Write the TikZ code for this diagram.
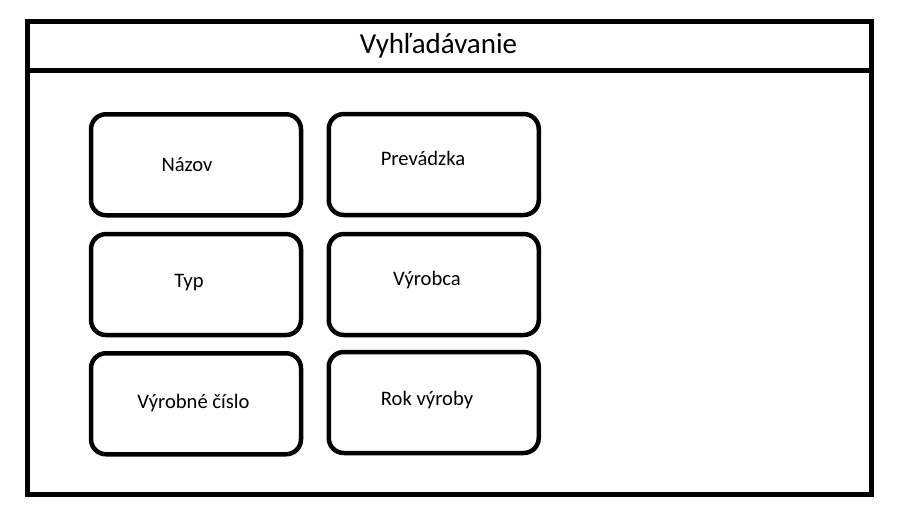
\documentclass[tikz,border=0pt]{standalone}
\usepackage{fontspec}
\setmainfont{Carlito}
\begin{document}
\begin{tikzpicture}[x=1pt,y=-1pt,
  frame/.style={draw=black,line width=5pt},
  field/.style={draw=black,line width=4.5pt,rounded corners=15pt,minimum width=210pt,minimum height=101pt,inner sep=0pt},
  lbl/.style={font=\fontsize{20.6}{24}\selectfont,inner sep=0pt,anchor=center},
  ttl/.style={font=\fontsize{29}{33}\selectfont,inner sep=0pt,anchor=center}]
\useasboundingbox (0,0) rectangle (900,520);
\fill[white] (0,0) rectangle (900,520);
\draw[frame] (27.5,21.5) rectangle (871.5,494) coordinate (br);
\coordinate (sl) at (27.5,70);
\coordinate (sr) at (871.5,70);
\draw[frame] (sl) -- (sr);
\node[ttl] (title) at (438.5,46) {Vyhľadávanie};
\node[field] (b1) at (196,164.75) {};
\node[field] (b2) at (433.75,164.5) {};
\node[field] (b3) at (196,284.5) {};
\node[field] (b4) at (433.75,284.5) {};
\node[field] (b5) at (196,403.75) {};
\node[field] (b6) at (433.75,402.5) {};
\node[lbl] (t1) at (187,165) {Názov};
\node[lbl] (t2) at (423,158) {Prevádzka};
\node[lbl] (t3) at (189,283) {Typ};
\node[lbl] (t4) at (427,280) {Výrobca};
\node[lbl] (t5) at (193.5,403) {Výrobné číslo};
\node[lbl] (t6) at (427,400) {Rok výroby};
\end{tikzpicture}
\end{document}
